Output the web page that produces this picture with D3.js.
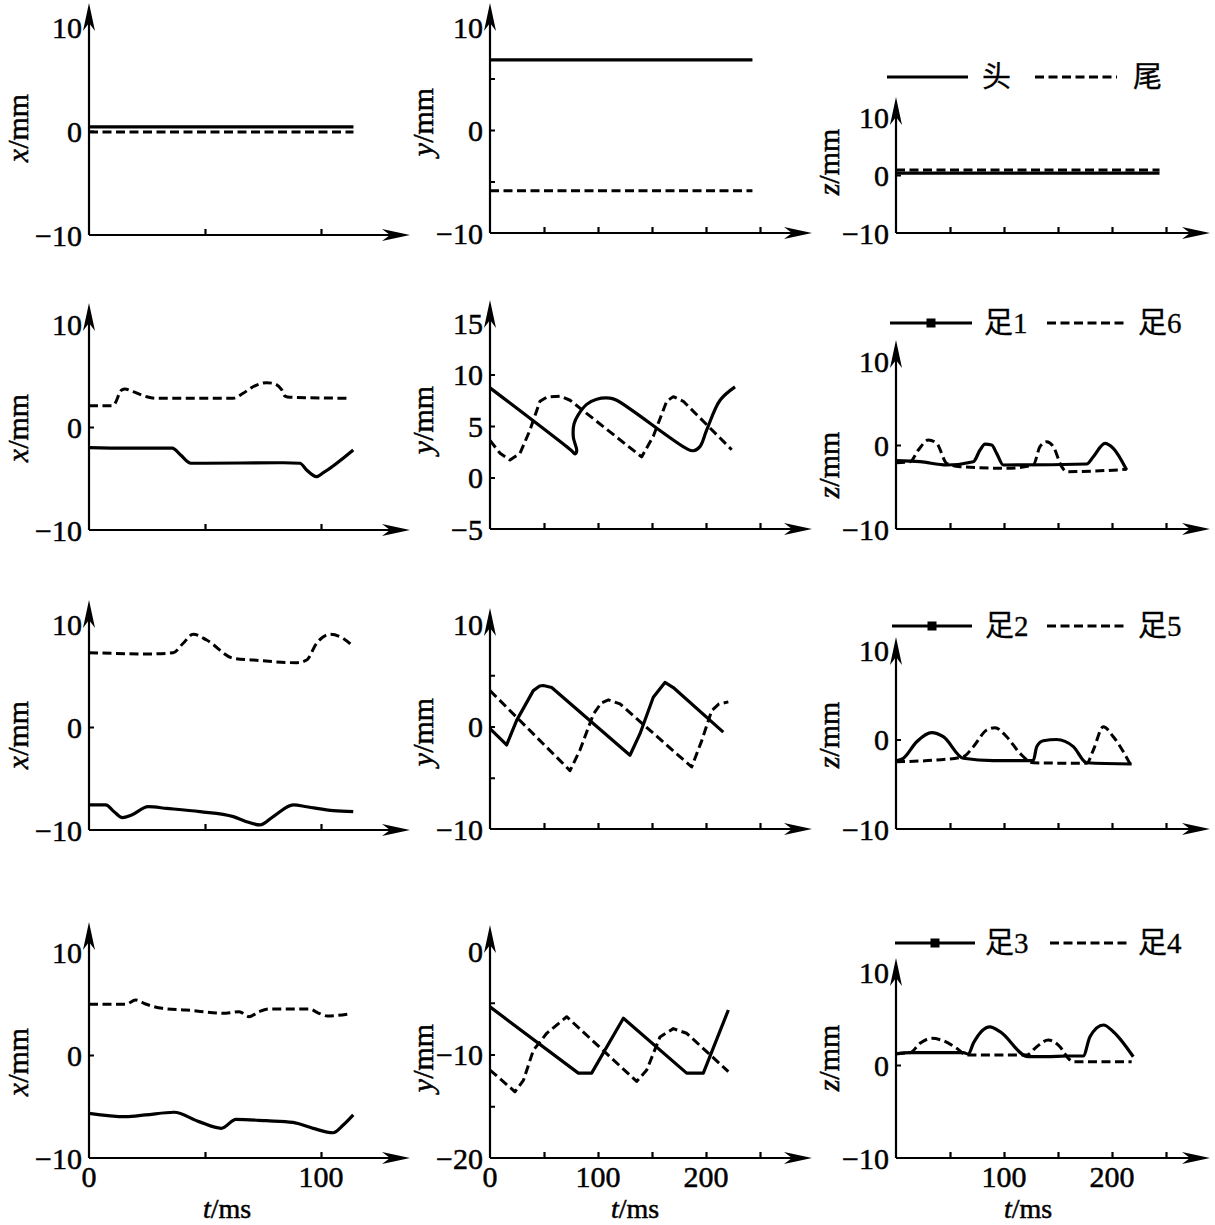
<!DOCTYPE html>
<html><head><meta charset="utf-8">
<script src="https://cdn.jsdelivr.net/npm/d3@7"></script>
<style>body{margin:0;background:#fff} svg{display:block}</style>
</head><body><svg id="c" width="1215" height="1225"></svg>
<script>
// ---------------- DATA ([t(ms), value(mm)]) ----------------
const headX = [[0,0.4],[114,0.4]];
const tailX = [[0,-0.1],[114,-0.1]];
const headY = [[0,6.8],[243,6.8]];
const tailY = [[0,-5.9],[243,-5.9]];
const headZ = [[0,0.34],[244,0.34]];
const tailZ = [[0,0.86],[244,0.86]];

const foot1X = [[0,-2.0],[15.8,-2.06],[35.9,-2.06],[39.5,-2.72],[43.9,-3.52],[47.8,-3.52],[83.7,-3.47],[90.9,-3.52],[93.8,-4.17],[98.1,-4.82],[101,-4.44],[113.9,-2.23]];
const foot6X = [[0,2.07],[10.3,2.07],[14.1,3.6],[15.5,3.7],[19,3.43],[24.9,2.94],[29.2,2.79],[62.1,2.79],[66.4,3.27],[70.7,3.91],[76.6,4.3],[79.3,4.24],[83.1,3.6],[84.5,3.0],[86.6,2.89],[112.5,2.79]];
const foot1Y = [[0,8.7],[75.6,2.6],[78.7,2.3],[80.3,2.6],[77.2,3.9],[77.8,5.2],[81.8,6.1],[89.5,7.1],[98.8,7.6],[111.1,7.7],[117.3,7.5],[182.1,2.8],[188.3,2.6],[194.4,3.0],[200.6,4.6],[213,7.5],[226.9,8.8]];
const foot6Y = [[0,3.6],[9.3,2.35],[18.5,1.7],[27.8,2.35],[37,4.6],[46.3,7.4],[52.5,7.8],[64.8,7.9],[74.1,7.5],[140.4,2.0],[151.2,4.0],[163.6,7.4],[169.7,7.85],[179,7.4],[223.8,2.7]];
const foot1Z = [[0,-1.87],[22.2,-1.99],[46.9,-2.38],[71.6,-1.99],[77.8,-0.6],[82.4,0.11],[88.6,0.0],[93.2,-1.0],[99.4,-2.38],[176.6,-2.26],[182.7,-1.4],[193.5,0.2],[201.2,-0.4],[213.6,-2.98]];
const foot6Z = [[0,-2.11],[13,-1.99],[20.7,-0.6],[29.9,0.59],[37.7,0.2],[46.9,-2.18],[59.3,-2.58],[102.5,-2.78],[127.1,-2.38],[133.3,-0.2],[139.5,0.39],[145.7,-0.2],[153.4,-2.58],[158,-3.18],[213.6,-2.9]];

const foot2X = [[0,-7.57],[7.2,-7.57],[10.8,-8.22],[14.4,-8.8],[18.4,-8.54],[25.5,-7.74],[33.5,-7.9],[47.8,-8.22],[62.2,-8.7],[67.9,-9.19],[73.7,-9.51],[79.4,-8.7],[88.1,-7.57],[93.8,-7.74],[105.3,-8.12],[113.9,-8.22]];
const foot5X = [[0,7.22],[26.3,7.09],[36.3,7.22],[40.6,8.13],[44.9,9.01],[50.7,8.45],[62.2,6.67],[70.8,6.5],[89.5,6.24],[93.8,6.5],[98.1,8.13],[103.9,9.01],[109.6,8.6],[113.9,7.8]];
const foot2Y = [[0,-0.2],[15.4,-1.8],[24.7,0.6],[40.1,3.5],[46,3.95],[49.4,4.0],[57.1,3.8],[129.6,-2.8],[138.9,-0.7],[151.2,2.85],[162,4.3],[169.7,3.8],[216,-0.55]];
const foot5Y = [[0,3.5],[74.1,-4.3],[83.3,-2.3],[95.7,1.2],[103,2.3],[109.6,2.6],[120.4,2.2],[186.7,-3.95],[196,-1.4],[205.3,1.55],[212,2.2],[220.7,2.4]];
const foot2Z = [[0,-2.37],[6.8,-2.1],[19.2,-0.25],[33.1,0.76],[43.8,0.31],[62.3,-2.1],[90.1,-2.37],[127.1,-2.37],[130.3,-0.8],[136.4,-0.14],[148.8,0.0],[164.2,-0.8],[176.6,-2.6],[218.2,-2.74]];
const foot5Z = [[0,-2.48],[37.7,-2.29],[62.3,-1.92],[71.6,-0.8],[84,1.06],[91.7,1.32],[102.5,0.31],[114.8,-1.54],[127.1,-2.6],[176.6,-2.66],[182.7,-1.18],[192,1.43],[201.2,0.31],[218.2,-3.04]];

const foot3X = [[0,-5.66],[15.8,-5.99],[24.4,-5.82],[36.6,-5.56],[47.4,-6.47],[57,-7.12],[63.4,-6.25],[76.4,-6.38],[87.9,-6.54],[96.6,-7.12],[105.2,-7.55],[109.6,-6.8],[113.9,-5.82]];
const foot4X = [[0,4.92],[15.8,4.92],[20.1,5.34],[24.4,4.95],[31.6,4.53],[41.7,4.37],[58.9,4.05],[64.7,4.21],[69,3.72],[73.3,4.21],[77.6,4.47],[94.8,4.47],[99.1,4.05],[102.7,3.79],[112.1,3.98]];
const foot3Y = [[0,-5.4],[81.8,-11.8],[94.1,-11.8],[123.5,-6.5],[182.1,-11.8],[197.5,-11.8],[220.7,-5.7]];
const foot4Y = [[0,-11.5],[10,-12.4],[23.1,-13.6],[30.9,-12.5],[40.1,-9.6],[52.5,-7.95],[71,-6.35],[135.8,-12.6],[145.1,-11.5],[157.4,-8.3],[169.7,-7.5],[182.1,-7.95],[220.7,-11.65]];
const foot3Z = [[0,1.18],[13,1.32],[62.3,1.32],[67,1.18],[71.6,2.33],[87,4.11],[96.3,3.58],[122.5,0.89],[139.5,0.89],[158,0.97],[173.4,0.97],[179.6,3.04],[192,4.3],[201.2,3.58],[219.7,0.89]];
const foot4Z = [[0,1.25],[13,1.32],[22.2,2.33],[33,2.87],[43.8,2.61],[56.2,1.79],[65.5,1.07],[121,1.07],[130.3,1.97],[141,2.69],[151.8,1.97],[159.5,0.72],[164.2,0.35],[218.2,0.35]];

// grid of series: rows = body part pair, cols = x / y / z
const seriesGrid = [
  [[headX,tailX],[headY,tailY],[headZ,tailZ]],
  [[foot1X,foot6X],[foot1Y,foot6Y],[foot1Z,foot6Z]],
  [[foot2X,foot5X],[foot2Y,foot5Y],[foot2Z,foot5Z]],
  [[foot3X,foot4X],[foot3Y,foot4Y],[foot3Z,foot4Z]]
];
const legendNames = [["头","尾"],["足1","足6"],["足2","足5"],["足3","足4"]];
const axisNames = ["x","y","z"];
const timeLabel = ["t","/ms"];

// axis domains & tick labels
const yDomains = [
  [[-10,10],[-10,10],[-10,10]],
  [[-10,10],[-5,15],[-10,10]],
  [[-10,10],[-10,10],[-10,10]],
  [[-10,10],[-20,0],[-10,10]]
];
const yLabelVals = [
  [[10,0,-10],[10,0,-10],[10,0,-10]],
  [[10,0,-10],[15,10,5,0,-5],[10,0,-10]],
  [[10,0,-10],[10,0,-10],[10,0,-10]],
  [[10,0,-10],[0,-10,-20],[10,0,-10]]
];
const yTickVals = [
  [[0],[-5,0,5],[0]],
  [[0],[0,5,10],[0]],
  [[0],[-5,0,5],[0]],
  [[0],[-15,-10,-5],[0]]
];
const xDomains = [[0,100],[0,250],[0,250]];
const xTickVals = [[50,100],[50,100,150,200,250],[50,100,150,200,250]];
const xTickLabels = [[0,100],[0,100,200],[100,200]];

// ---------------- LAYOUT / STYLE ----------------
const colLayout = [
  {range:[89,321], tip:410, ylabX:18, tlabX:227},
  {range:[490,760], tip:812, ylabX:423, tlabX:635},
  {range:[896,1166], tip:1210, ylabX:829, tlabX:1028}
];
const panelLayout = [
  [{yr:[235,27],tip:3,ly:128},{yr:[233,27],tip:3,ly:122},{yr:[233,117],tip:97,ly:162}],
  [{yr:[530,324],tip:303,ly:428},{yr:[529,323],tip:300,ly:420},{yr:[529,361],tip:340,ly:465}],
  [{yr:[830,624],tip:600,ly:735},{yr:[829,624],tip:608,ly:732},{yr:[829,650],tip:637,ly:735}],
  [{yr:[1158,952],tip:922,ly:1062},{yr:[1158,951],tip:925,ly:1058},{yr:[1158,972],tip:958,ly:1058}]
];
// curve style per column (y-panels have straight ramps)
const colCurve = ["monotone","linear","monotone"];
const legendLayout = [
  {y:77, s:[887,968], l1:982, d:[1035,1117], l2:1133, marker:false},
  {y:323, s:[890,972], l1:984, d:[1047,1127], l2:1138, marker:true},
  {y:626, s:[892,972], l1:985, d:[1047,1127], l2:1138, marker:true},
  {y:943, s:[895,975], l1:985, d:[1050,1130], l2:1138, marker:true}
];

const SERIF = "'Liberation Serif','DejaVu Serif','Times New Roman',serif";
const CJK = "'Noto Sans CJK SC','Noto Sans CJK JP',sans-serif";
const svg = d3.select("#c");
const fmt = v => v < 0 ? "\u2212" + Math.abs(v) : String(v);
const textStyle = sel => sel.attr("font-family", SERIF).attr("fill","#000")
  .attr("stroke","#000").attr("stroke-width",0.5);

function curveFor(s, c){
  let mono = true;
  for (let i=1;i<s.length;i++) if (s[i][0] <= s[i-1][0]) mono = false;
  if (!mono) return d3.curveCatmullRom.alpha(0.5);
  return colCurve[c] === "linear" ? d3.curveLinear : d3.curveMonotoneX;
}

for (let r = 0; r < 4; r++) {
  for (let c = 0; c < 3; c++) {
    const col = colLayout[c], pl = panelLayout[r][c];
    const x = d3.scaleLinear().domain(xDomains[c]).range(col.range);
    const y = d3.scaleLinear().domain(yDomains[r][c]).range(pl.yr);
    const x0 = x(0), yb = y(yDomains[r][c][0]);
    const g = svg.append("g");

    // axis lines
    g.append("line").attr("x1",x0).attr("x2",col.tip-12).attr("y1",yb).attr("y2",yb)
      .attr("stroke","#000").attr("stroke-width",2.2);
    g.append("line").attr("x1",x0).attr("x2",x0).attr("y1",yb).attr("y2",pl.tip+12)
      .attr("stroke","#000").attr("stroke-width",2.2);
    // arrowheads
    g.append("path").attr("d",`M${col.tip},${yb}L${col.tip-28},${yb-6}L${col.tip-20},${yb}L${col.tip-28},${yb+6}Z`).attr("fill","#000");
    g.append("path").attr("d",`M${x0},${pl.tip}L${x0-6},${pl.tip+28}L${x0},${pl.tip+20}L${x0+6},${pl.tip+28}Z`).attr("fill","#000");

    // x ticks
    const xa = g.append("g").attr("transform",`translate(0,${yb})`)
      .call(d3.axisBottom(x).tickValues(xTickVals[c]).tickSize(-6).tickFormat(""));
    xa.select(".domain").remove();
    xa.selectAll("line").attr("stroke-width",2.2);
    // y ticks
    const ya = g.append("g").attr("transform",`translate(${x0},0)`)
      .call(d3.axisLeft(y).tickValues(yTickVals[r][c]).tickSize(-5).tickFormat(""));
    ya.select(".domain").remove();
    ya.selectAll("line").attr("stroke-width",2);

    // y tick labels
    g.selectAll(".yl").data(yLabelVals[r][c]).enter().append("text")
      .call(textStyle)
      .attr("x", x0 - 7).attr("y", d => y(d)).attr("dy","0.35em")
      .attr("text-anchor","end").attr("font-size",30).text(fmt);

    // y axis title
    const yt = g.append("text").call(textStyle)
      .attr("transform",`translate(${col.ylabX},${pl.ly}) rotate(-90)`)
      .attr("text-anchor","middle").attr("dy","0.32em").attr("font-size",30);
    yt.append("tspan").attr("font-style","italic").text(axisNames[c]);
    yt.append("tspan").text("/mm");

    // x labels on bottom row
    if (r === 3) {
      g.selectAll(".xl").data(xTickLabels[c]).enter().append("text").call(textStyle)
        .attr("x", d => x(d)).attr("y", yb + 18).attr("dy","0.35em")
        .attr("text-anchor","middle").attr("font-size",30).text(d => String(d));
      const tt = g.append("text").call(textStyle).attr("x", col.tlabX).attr("y", 1218)
        .attr("text-anchor","middle").attr("font-size",28);
      tt.append("tspan").attr("font-style","italic").text(timeLabel[0]);
      tt.append("tspan").text(timeLabel[1]);
    }

    // data lines
    const [sSolid, sDash] = seriesGrid[r][c];
    const mk = s => d3.line().x(d => x(d[0])).y(d => y(d[1])).curve(curveFor(s, c))(s);
    g.append("path").attr("d", mk(sDash)).attr("fill","none").attr("stroke","#000")
      .attr("stroke-width",3).attr("stroke-dasharray","9,4.5").attr("stroke-linejoin","round");
    g.append("path").attr("d", mk(sSolid)).attr("fill","none").attr("stroke","#000")
      .attr("stroke-width",3.2).attr("stroke-linejoin","round");
  }

  // legend (third column)
  const L = legendLayout[r];
  const lg = svg.append("g");
  lg.append("line").attr("x1",L.s[0]).attr("x2",L.s[1]).attr("y1",L.y).attr("y2",L.y)
    .attr("stroke","#000").attr("stroke-width",3.2);
  if (L.marker) {
    const mx = (L.s[0]+L.s[1])/2;
    lg.append("rect").attr("x",mx-4.5).attr("y",L.y-4.5).attr("width",9).attr("height",9).attr("fill","#000");
  }
  lg.append("line").attr("x1",L.d[0]).attr("x2",L.d[1]).attr("y1",L.y).attr("y2",L.y)
    .attr("stroke","#000").attr("stroke-width",3).attr("stroke-dasharray","9,4.5");
  [[L.l1, legendNames[r][0]],[L.l2, legendNames[r][1]]].forEach(([lx, name]) => {
    const t = lg.append("text").call(textStyle).attr("stroke-width",0.3)
      .attr("x", lx).attr("y", L.y).attr("dy","0.36em").attr("font-size",29);
    Array.from(name).forEach(ch => {
      const sp = t.append("tspan").text(ch);
      if (/[\u3400-\u9fff]/.test(ch)) sp.attr("font-family", CJK);
    });
  });
}
</script>
</body></html>
